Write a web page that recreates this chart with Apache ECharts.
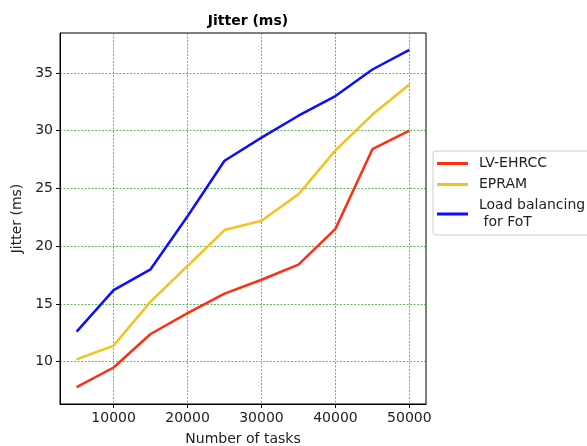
<!DOCTYPE html>
<html>
<head>
<meta charset="utf-8">
<script src="https://cdn.jsdelivr.net/npm/echarts@6/dist/echarts.min.js"></script>
<style>html,body{margin:0;padding:0;background:#fff}#c{width:587px;height:446px}</style>
</head>
<body>
<div id="c"></div>
<script>
const tasks = [5000, 10000, 15000, 20000, 25000, 30000, 35000, 40000, 45000, 50000];
const lvEhrcc = [7.8, 9.5, 12.4, 14.2, 15.9, 17.1, 18.4, 21.5, 28.4, 30.0];
const epram = [10.2, 11.4, 15.2, 18.3, 21.4, 22.2, 24.5, 28.3, 31.4, 34.0];
const loadBalancing = [12.6, 16.2, 18.0, 22.6, 27.4, 29.4, 31.3, 33.0, 35.3, 37.0];
const xTicks = [10000, 20000, 30000, 40000, 50000];
const yTicks = [10, 15, 20, 25, 30, 35];
const seriesNames = ['LV-EHRCC', 'EPRAM', 'Load balancing\n for FoT'];
const colors = ['#ff2f12', '#f4c21b', '#0d0dff'];

const font = 'DejaVu Sans';
const pair = arr => tasks.map((t, i) => [t, arr[i]]);
const chart = echarts.init(document.getElementById('c'), null, {renderer: 'canvas'});
const gridLine = {show: true, lineStyle: {color: '#2a9a2a', width: 0.7, type: [2, 1.5]}};
chart.setOption({
  animation: false,
  backgroundColor: '#fff',
  title: {
    text: 'Jitter (ms)', left: 243, top: 9, textAlign: 'center',
    textStyle: {fontFamily: font, fontSize: 14, fontWeight: 'bold', color: '#000'}
  },
  grid: {left: 60, top: 33, right: 161, bottom: 42, show: true, borderColor: '#000', borderWidth: 1,
         containLabel: false, outerBoundsMode: 'none'},
  legend: {
    orient: 'vertical', left: 433, top: 151,
    backgroundColor: '#fff', borderColor: '#cccccc', borderWidth: 1, borderRadius: 3,
    padding: [4, 12, 4, 4], itemGap: 4, itemWidth: 31, itemHeight: 3, icon: 'rect',
    textStyle: {fontFamily: font, fontSize: 14, lineHeight: 17, color: '#222', padding: [0, 0, 0, 6]},
    data: seriesNames
  },
  xAxis: {
    type: 'value', min: 2750, max: 52250,
    name: 'Number of tasks', nameLocation: 'middle', nameGap: 28,
    nameTextStyle: {fontFamily: font, fontSize: 14, color: '#222'},
    axisLine: {show: true, lineStyle: {color: '#000'}},
    axisTick: {show: true, length: 4, customValues: xTicks, lineStyle: {color: '#000'}},
    axisLabel: {customValues: xTicks, formatter: v => String(v), fontFamily: font, fontSize: 14, color: '#222', margin: 7},
    splitLine: gridLine
  },
  yAxis: {
    type: 'value', min: 6.34, max: 38.46,
    name: 'Jitter (ms)', nameLocation: 'middle', nameGap: 35, nameRotate: 90,
    nameTextStyle: {fontFamily: font, fontSize: 14, color: '#222'},
    axisLine: {show: true, lineStyle: {color: '#000'}},
    axisTick: {show: true, length: 4, customValues: yTicks, lineStyle: {color: '#000'}},
    axisLabel: {customValues: yTicks, formatter: v => String(v), fontFamily: font, fontSize: 14, color: '#222', margin: 7},
    splitLine: gridLine
  },
  series: [lvEhrcc, epram, loadBalancing].map((d, i) => ({
    name: seriesNames[i], type: 'line', data: pair(d), symbol: 'none', showSymbol: false,
    lineStyle: {color: colors[i], width: 2.5}, itemStyle: {color: colors[i]}, z: 3
  }))
});
</script>
</body>
</html>
